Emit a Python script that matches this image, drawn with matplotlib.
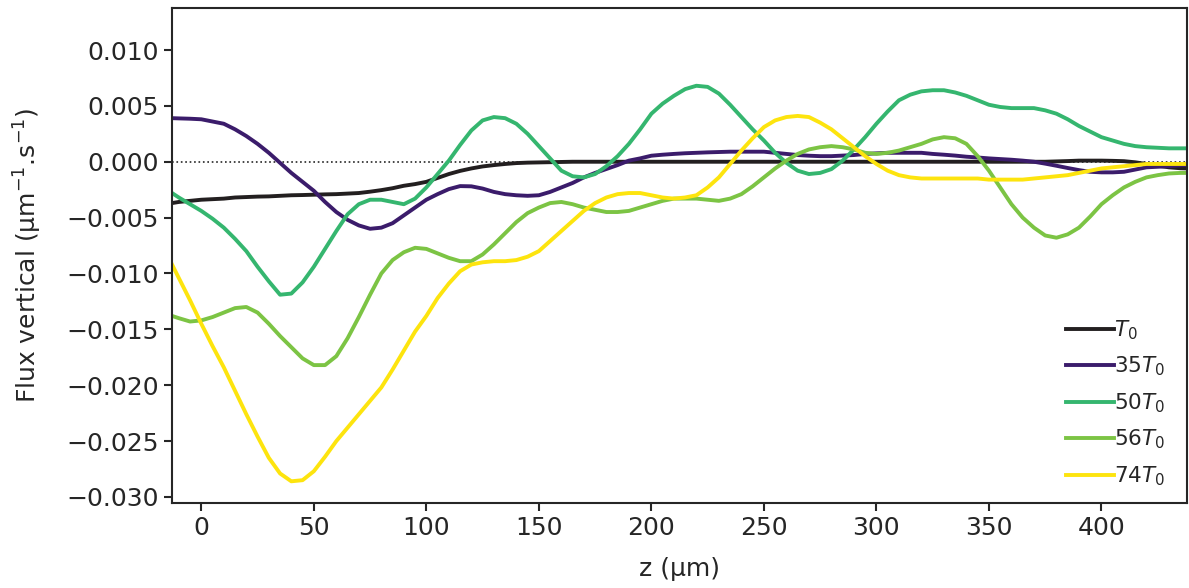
import numpy as np
import matplotlib
matplotlib.use("Agg")
import matplotlib.pyplot as plt

# z positions (µm): -13, then every 5 µm from -10 to 435, then 438
z = [-13] + list(range(-10, 436, 5)) + [438]

flux_T0 = [-0.0037, -0.0036, -0.0035, -0.0034, -0.00335, -0.0033, -0.0032, -0.00316, -0.00312, -0.0031,
           -0.00305, -0.0030, -0.00298, -0.00295, -0.00292, -0.0029, -0.00285, -0.0028, -0.00268, -0.00254,
           -0.00237, -0.00215, -0.0020, -0.0018, -0.00145, -0.0011, -0.00082, -0.0006, -0.00042, -0.0003,
           -0.0002, -0.00012, -0.00008, -0.00006, -0.00004, -0.00002, 0.0, 0.0, 0.0, 0.0,
           0.0, 0.0, 0.0, 0.0, 0.0, 0.0, 0.0, 0.0, 0.0, 0.0,
           0.0, 0.0, 0.0, 0.0, 0.0, 0.0, 0.0, 0.0, 0.0, 0.0,
           0.0, 0.0, 0.0, 0.0, 0.0, 0.0, 0.0, 0.0, 0.0, 0.0,
           0.0, 0.0, 0.0, 0.0, 0.0, 0.0, 0.0, 0.0, 0.0, 0.00003,
           0.00006, 0.0001, 0.0001, 0.0001, 0.00008, 0.00005, -0.00005, -0.0002, -0.00035, -0.0005,
           -0.00058, -0.0006]

flux_35 = [0.0039, 0.00388, 0.00385, 0.0038, 0.0036, 0.0034, 0.0029, 0.0023, 0.0016, 0.0008,
           -0.0001, -0.0010, -0.0018, -0.0026, -0.0036, -0.0045, -0.0052, -0.0057, -0.0060, -0.0059,
           -0.0055, -0.0048, -0.0041, -0.0034, -0.0029, -0.00245, -0.00218, -0.0022, -0.0024, -0.0027,
           -0.0029, -0.0030, -0.00305, -0.0030, -0.0027, -0.0023, -0.0019, -0.0014, -0.0010, -0.00065,
           -0.0003, 0.0001, 0.0003, 0.00054, 0.00063, 0.0007, 0.00076, 0.0008, 0.00084, 0.00087,
           0.0009, 0.0009, 0.0009, 0.0009, 0.0008, 0.0007, 0.0006, 0.00054, 0.0005, 0.0005,
           0.00055, 0.0006, 0.0007, 0.00075, 0.0008, 0.0008, 0.0008, 0.0008, 0.0007, 0.00063,
           0.00055, 0.00045, 0.00038, 0.0003, 0.00024, 0.00018, 0.0001, 0.0, -0.00017, -0.00036,
           -0.00056, -0.00075, -0.0009, -0.00095, -0.00095, -0.0009, -0.0007, -0.0005, -0.00045, -0.0004,
           -0.00032, -0.0003]

flux_50 = [-0.0028, -0.0032, -0.0038, -0.0044, -0.0051, -0.0059, -0.0069, -0.0080, -0.0094, -0.0107,
           -0.0119, -0.0118, -0.0108, -0.0094, -0.0078, -0.0062, -0.0047, -0.0038, -0.0034, -0.0034,
           -0.0036, -0.0038, -0.0033, -0.0023, -0.0011, 0.0001, 0.0015, 0.0028, 0.0037, 0.0040,
           0.0039, 0.0034, 0.0025, 0.0014, 0.0003, -0.0008, -0.0013, -0.0014, -0.0011, -0.0004,
           0.0005, 0.0016, 0.0029, 0.0043, 0.0052, 0.0059, 0.0065, 0.0068, 0.0067, 0.0061,
           0.0051, 0.0040, 0.0029, 0.0019, 0.0008, -0.0001, -0.0008, -0.0011, -0.0010, -0.00066,
           0.0001, 0.0011, 0.0022, 0.0034, 0.0045, 0.0055, 0.0060, 0.0063, 0.0064, 0.0064,
           0.0062, 0.0059, 0.0055, 0.0051, 0.0049, 0.0048, 0.0048, 0.0048, 0.0046, 0.0043,
           0.0038, 0.0032, 0.0027, 0.0022, 0.0019, 0.0016, 0.0014, 0.0013, 0.00125, 0.0012,
           0.0012, 0.0012]

flux_56 = [-0.0138, -0.0140, -0.0143, -0.0142, -0.0139, -0.0135, -0.0131, -0.0130, -0.0135, -0.0145,
           -0.0156, -0.0166, -0.0176, -0.0182, -0.0182, -0.0174, -0.0158, -0.0139, -0.0119, -0.0100,
           -0.0088, -0.0081, -0.0077, -0.0078, -0.0082, -0.0086, -0.0089, -0.0089, -0.0083, -0.0074,
           -0.0064, -0.0054, -0.0046, -0.0041, -0.0037, -0.0036, -0.0038, -0.0041, -0.0043, -0.0045,
           -0.0045, -0.0044, -0.0041, -0.0038, -0.0035, -0.0033, -0.0033, -0.0033, -0.0034, -0.0035,
           -0.0033, -0.0029, -0.0022, -0.0014, -0.0006, 0.0001, 0.0007, 0.0011, 0.0013, 0.0014,
           0.0013, 0.0011, 0.0008, 0.0007, 0.0008, 0.0010, 0.0013, 0.0016, 0.0020, 0.0022,
           0.0021, 0.0016, 0.0005, -0.0008, -0.0023, -0.0038, -0.0050, -0.0059, -0.0066, -0.0068,
           -0.0065, -0.0059, -0.0049, -0.0038, -0.0030, -0.0023, -0.0018, -0.0014, -0.0012, -0.00105,
           -0.0010, -0.0010]

flux_74 = [-0.0092, -0.0104, -0.0124, -0.0145, -0.0165, -0.0184, -0.0205, -0.0226, -0.0246, -0.0265,
           -0.0279, -0.0286, -0.0285, -0.0277, -0.0264, -0.0250, -0.0238, -0.0226, -0.0214, -0.0202,
           -0.0186, -0.0169, -0.0152, -0.0138, -0.0122, -0.0109, -0.0098, -0.0092, -0.0090, -0.0089,
           -0.0089, -0.0088, -0.0085, -0.0080, -0.0071, -0.0062, -0.0053, -0.0044, -0.0037, -0.0032,
           -0.0029, -0.0028, -0.0028, -0.0030, -0.0032, -0.0033, -0.0032, -0.0030, -0.0023, -0.0014,
           -0.0002, 0.0010, 0.0021, 0.0031, 0.0037, 0.0040, 0.0041, 0.0040, 0.0035, 0.0029,
           0.0021, 0.0013, 0.0005, -0.0002, -0.0008, -0.0012, -0.0014, -0.0015, -0.0015, -0.0015,
           -0.0015, -0.0015, -0.0015, -0.0016, -0.0016, -0.0016, -0.0016, -0.0015, -0.0014, -0.0013,
           -0.0012, -0.0010, -0.0008, -0.0006, -0.0005, -0.0004, -0.0003, -0.0002, -0.0002, -0.0002,
           -0.0002, -0.0002]

labels = ["$T_0$", "$35T_0$", "$50T_0$", "$56T_0$", "$74T_0$"]
colors = ["#231f20", "#3b1c6b", "#35b66f", "#7cc444", "#fde40e"]

plt.rcParams["font.family"] = "DejaVu Sans"
plt.rcParams["text.color"] = "#262626"
plt.rcParams["axes.labelcolor"] = "#262626"
plt.rcParams["xtick.color"] = "#262626"
plt.rcParams["ytick.color"] = "#262626"

fig = plt.figure(figsize=(11.89, 5.88), dpi=100)
ax = fig.add_axes([0.1447, 0.1446, 0.8536, 0.8418])

ax.axhline(0, color="#262626", ls=":", lw=1.2)
series = [flux_T0, flux_35, flux_50, flux_56, flux_74]
for vals, lab, col in zip(series, labels, colors):
    ax.plot(z, vals, color=col, lw=2.8, label=lab, solid_joinstyle="round")

ax.set_xlim(-13, 438)
ax.set_ylim(-0.03054, 0.01376)
ax.set_yticks(np.arange(-0.030, 0.0101, 0.005))
ax.set_xticks(np.arange(0, 401, 50))
ax.tick_params(labelsize=18, length=6, width=1.5)
for sp in ax.spines.values():
    sp.set_color("#262626")
    sp.set_linewidth(1.5)

ax.set_xlabel("z (µm)", fontsize=18, labelpad=12)
ax.set_ylabel("Flux vertical (µm$^{-1}$.s$^{-1}$)", fontsize=18, labelpad=16)

ax.legend(loc="lower right", frameon=False, fontsize=15.5, handlelength=2.2,
          handletextpad=0.0, labelspacing=0.6, borderaxespad=0.3,
          bbox_to_anchor=(0.993, 0.0))

fig.savefig("out.png", dpi=100)
